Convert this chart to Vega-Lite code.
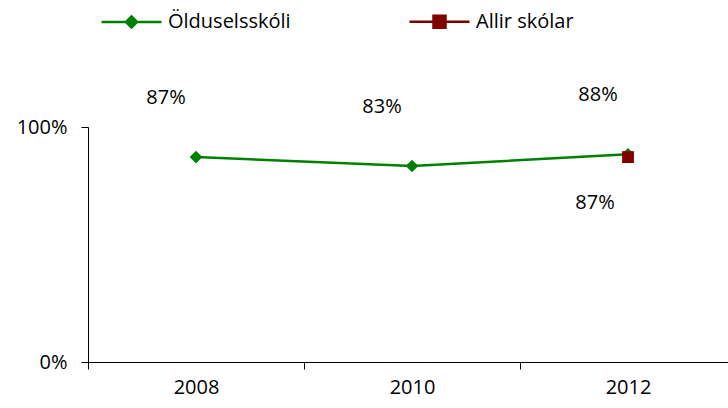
{
  "$schema": "https://vega.github.io/schema/vega-lite/v6.json",
  "width": 648,
  "height": 235,
  "autosize": {"type": "none"},
  "padding": {"left": 88, "top": 127, "right": -8, "bottom": 46},
  "background": "white",
  "config": {
    "view": {"stroke": null},
    "font": "Open Sans",
    "axis": {"labelFont": "Open Sans", "labelFontSize": 20, "labelColor": "#000", "domainColor": "#000", "tickColor": "#000", "grid": false, "title": null, "tickSize": 7}
  },
  "data": {
    "values": [
      {"year": "2008", "series": "Ölduselsskóli", "value": 0.872},
      {"year": "2010", "series": "Ölduselsskóli", "value": 0.834},
      {"year": "2012", "series": "Ölduselsskóli", "value": 0.884},
      {"year": "2012", "series": "Allir skólar", "value": 0.872}
    ]
  },
  "encoding": {
    "x": {"field": "year", "type": "nominal", "scale": {"type": "band", "paddingInner": 0, "paddingOuter": 0}, "axis": {"labelAngle": 0, "tickBand": "extent", "labelPadding": 8}},
    "y": {"field": "value", "type": "quantitative", "scale": {"domain": [0, 1]}, "axis": {"values": [0, 1], "format": ".0%", "labelPadding": 14}}
  },
  "layer": [
    {
      "mark": {"type": "line", "strokeWidth": 2.5},
      "encoding": {
        "color": {
          "field": "series", "type": "nominal",
          "scale": {"domain": ["Ölduselsskóli", "Allir skólar"], "range": ["#008000", "#800000"]},
          "legend": {
            "orient": "none", "legendX": 32, "legendY": -117, "direction": "horizontal", "title": null,
            "padding": 0,
            "symbolType": "M-3,0H3M0,-0.55L0.55,0L0,0.55L-0.55,0Z",
            "symbolSize": 400, "symbolStrokeWidth": 2.5,
            "labelFont": "Open Sans", "labelFontSize": 20, "labelColor": "#000",
            "labelOffset": 25, "columnPadding": 113,
            "encode": {
              "symbols": {"update": {
                "shape": {"signal": "datum.value === 'Allir skólar' ? 'M-3,0H3M-0.6,-0.6H0.6V0.6H-0.6Z' : 'M-3,0H3M0,-0.55L0.55,0L0,0.55L-0.55,0Z'"},
                "fill": {"signal": "datum.value === 'Allir skólar' ? '#800000' : '#008000'"},
                "stroke": {"signal": "datum.value === 'Allir skólar' ? '#800000' : '#008000'"},
                "strokeWidth": {"value": 2.5},
                "opacity": {"value": 1}
              }}
            }
          }
        }
      }
    },
    {
      "transform": [{"filter": "datum.series === 'Ölduselsskóli'"}],
      "mark": {"type": "point", "filled": true, "size": 160, "opacity": 1, "shape": "diamond", "color": "#008000"}
    },
    {
      "transform": [{"filter": "datum.series === 'Allir skólar'"}],
      "mark": {"type": "point", "filled": true, "size": 140, "opacity": 1, "shape": "square", "color": "#800000"}
    },
    {
      "transform": [{"filter": "datum.series === 'Ölduselsskóli'"}],
      "mark": {"type": "text", "fontSize": 20, "color": "#000", "dx": -30, "dy": -59},
      "encoding": {"text": {"field": "value", "type": "quantitative", "format": ".0%"}}
    },
    {
      "transform": [{"filter": "datum.series === 'Allir skólar'"}],
      "mark": {"type": "text", "fontSize": 20, "color": "#000", "dx": -33, "dy": 46},
      "encoding": {"text": {"field": "value", "type": "quantitative", "format": ".0%"}}
    }
  ]
}
